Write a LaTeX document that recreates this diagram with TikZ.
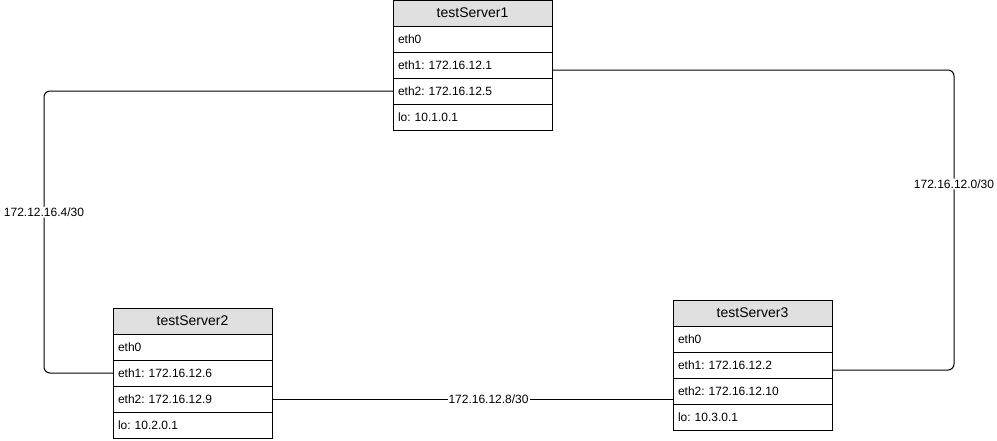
\documentclass[tikz,border=0pt]{standalone}
\usepackage{fontspec}
\setmainfont{Liberation Sans}
\usepackage{tikz}
\usetikzlibrary{positioning}
\definecolor{hdrgray}{HTML}{E0E0E0}
\frenchspacing

\begin{document}
\begin{tikzpicture}[x=1pt, y=-1pt, line width=1pt, node distance=0pt,
		hdr/.style={draw, fill=hdrgray, minimum width=159pt, minimum height=26pt, inner sep=0pt, outer sep=0pt, font=\fontsize{14}{16}\selectfont},
		row/.style={draw, fill=white, text width=149pt, inner xsep=5pt, inner ysep=0pt, minimum height=26pt, outer sep=0pt, align=left, font=\fontsize{12}{14}\selectfont},
		net/.style={fill=white, inner sep=1pt, font=\fontsize{12}{14}\selectfont}]
		\useasboundingbox (0,0) rectangle (997,440);

		\node[hdr] (s1) at (472.5,13) {testServer1};
		\node[row] (s1eth0) [below=of s1] {eth0};
		\node[row] (s1eth1) [below=of s1eth0] {eth1: 172.16.12.1};
		\node[row] (s1eth2) [below=of s1eth1] {eth2: 172.16.12.5};
		\node[row] (s1lo) [below=of s1eth2] {lo: 10.1.0.1};

		\node[hdr] (s2) at (192.5,321) {testServer2};
		\node[row] (s2eth0) [below=of s2] {eth0};
		\node[row] (s2eth1) [below=of s2eth0] {eth1: 172.16.12.6};
		\node[row] (s2eth2) [below=of s2eth1] {eth2: 172.16.12.9};
		\node[row] (s2lo) [below=of s2eth2] {lo: 10.2.0.1};

		\node[hdr] (s3) at (752.5,313) {testServer3};
		\node[row] (s3eth0) [below=of s3] {eth0};
		\node[row] (s3eth1) [below=of s3eth0] {eth1: 172.16.12.2};
		\node[row] (s3eth2) [below=of s3eth1] {eth2: 172.16.12.10};
		\node[row] (s3lo) [below=of s3eth2] {lo: 10.3.0.1};

		\coordinate (lcol) at (44,0);
		\coordinate (rcol) at (954,0);
		\coordinate (p1) at ([yshift=-5pt]s1eth1.east);
		\coordinate (p3) at ([yshift=-5pt]s3eth1.east);

		\draw[rounded corners=6pt] (p1) -- (p1 -| rcol)
		-- node[net, pos=0.38] {172.16.12.0/30} (p3 -| rcol) -- (p3);
		\draw[rounded corners=6pt] (s1eth2.west) -- (s1eth2.west -| lcol)
		-- node[net, pos=0.43] {172.12.16.4/30} (s2eth1.west -| lcol) -- (s2eth1.west);
		\draw (s2eth2.east) -- node[net, pos=0.54] {172.16.12.8/30} (s2eth2.east -| s3eth2.west);
	\end{tikzpicture}
\end{document}
